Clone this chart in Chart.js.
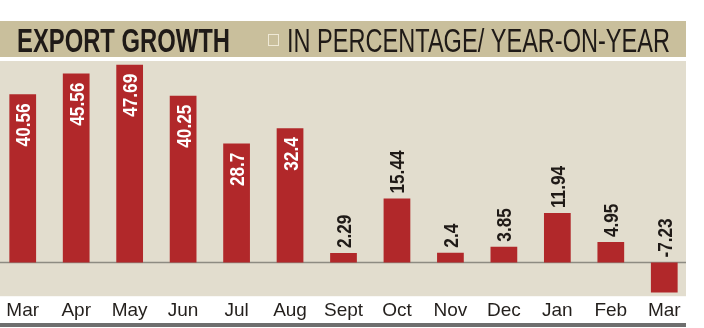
<!DOCTYPE html>
<html>
<head>
<meta charset="utf-8">
<script src="https://cdn.jsdelivr.net/npm/chart.js@4.4.1/dist/chart.umd.min.js"></script>
<style>
  html, body { margin: 0; padding: 0; background: #fff; overflow: hidden; }
  #wrap { position: absolute; left: -4px; top: 0; width: 708px; height: 328px; }
</style>
</head>
<body>
<div id="wrap"><canvas id="exportChart"></canvas></div>
<script>
const months = ['Mar','Apr','May','Jun','Jul','Aug','Sept','Oct','Nov','Dec','Jan','Feb','Mar'];
const growth = [40.56, 45.56, 47.69, 40.25, 28.7, 32.4, 2.29, 15.44, 2.4, 3.85, 11.94, 4.95, -7.23];
const valueLabels = ['40.56','45.56','47.69','40.25','28.7','32.4','2.29','15.44','2.4','3.85','11.94','4.95','-7.23'];
const titleMain = 'EXPORT GROWTH';
const titleSub = 'IN PERCENTAGE/ YEAR-ON-YEAR';

const SHIFT = 4; // canvas is moved 4px left of the page
const FONT = '"Liberation Sans Narrow", "Liberation Sans", sans-serif';

const hasNarrow = (() => {
    const c = document.createElement('canvas').getContext('2d');
    c.font = '20px "Liberation Sans Narrow", monospace';
    const a = c.measureText('EXPORT GROWTH').width;
    c.font = '20px monospace';
    return a !== c.measureText('EXPORT GROWTH').width;
})();
const squeeze = hasNarrow ? 1 : 0.82;

function fitText(ctx, text, x, y, width) {
    const w = ctx.measureText(text).width;
    ctx.save();
    ctx.translate(x, y);
    ctx.scale(width / w, 1);
    ctx.fillText(text, 0, 0);
    ctx.restore();
}

const decor = {
    id: 'decor',
    beforeDraw(chart) {
        const ctx = chart.ctx;
        const a = chart.chartArea;
        ctx.save();
        // title band
        ctx.fillStyle = '#c9bf9c';
        ctx.fillRect(SHIFT, 21, 686, 36);
        // plot panel
        ctx.fillStyle = '#e2ddce';
        ctx.fillRect(SHIFT, a.top, 686, a.bottom - a.top);
        // title text
        ctx.fillStyle = '#1f1a17';
        ctx.textBaseline = 'alphabetic';
        ctx.font = 'bold 34px ' + FONT;
        fitText(ctx, titleMain, SHIFT + 17, 52, 213);
        ctx.font = '34px ' + FONT;
        fitText(ctx, titleSub, SHIFT + 287, 52, 383);
        ctx.strokeStyle = '#efe9d6';
        ctx.lineWidth = 1;
        ctx.strokeRect(SHIFT + 268.5, 34.5, 10, 11);
        ctx.restore();
    },
    beforeDatasetsDraw(chart) {
        const ctx = chart.ctx;
        const y0 = chart.scales.y.getPixelForValue(0);
        ctx.save();
        ctx.strokeStyle = '#8d8b82';
        ctx.lineWidth = 1.5;
        ctx.beginPath();
        ctx.moveTo(SHIFT, y0);
        ctx.lineTo(SHIFT + 686, y0);
        ctx.stroke();
        ctx.restore();
    },
    afterDatasetsDraw(chart) {
        const ctx = chart.ctx;
        const meta = chart.getDatasetMeta(0);
        const size = 21;
        ctx.save();
        ctx.font = 'bold ' + size + 'px ' + FONT;
        ctx.textBaseline = 'alphabetic';
        meta.data.forEach((bar, i) => {
            const v = growth[i];
            const inside = v > 20;
            let ay, align;
            if (inside) { ay = bar.y + 9; align = 'right'; }
            else if (v >= 0) { ay = bar.y - 5; align = 'left'; }
            else { ay = bar.base - 5; align = 'left'; }
            ctx.save();
            ctx.translate(bar.x, ay);
            ctx.rotate(-Math.PI / 2);
            ctx.scale(squeeze, 1);
            ctx.fillStyle = inside ? '#ffffff' : '#1f1a17';
            ctx.textAlign = align;
            ctx.fillText(valueLabels[i], 0, size * 0.716 / 2);
            ctx.restore();
        });
        ctx.restore();
    },
    afterDraw(chart) {
        const ctx = chart.ctx;
        ctx.save();
        ctx.fillStyle = '#6e6e6e';
        ctx.fillRect(SHIFT, 323, 686, 4);
        ctx.restore();
    }
};

new Chart(document.getElementById('exportChart'), {
    type: 'bar',
    data: {
        labels: months,
        datasets: [{
            data: growth,
            backgroundColor: '#b1282a',
            borderWidth: 0,
            categoryPercentage: 1,
            barPercentage: 0.5
        }]
    },
    options: {
        responsive: true,
        maintainAspectRatio: false,
        animation: false,
        layout: { padding: { top: 61, bottom: 3, left: 0, right: 13 } },
        plugins: { legend: { display: false }, tooltip: { enabled: false } },
        scales: {
            x: {
                grid: { display: false, drawTicks: false, tickLength: 0 },
                border: { display: false },
                ticks: {
                    color: '#231f1c',
                    font: { family: FONT, size: 19 },
                    padding: 3,
                    maxRotation: 0,
                    autoSkip: false
                }
            },
            y: {
                display: false,
                min: -8.1,
                max: 48.6
            }
        }
    },
    plugins: [decor]
});
</script>
</body>
</html>
